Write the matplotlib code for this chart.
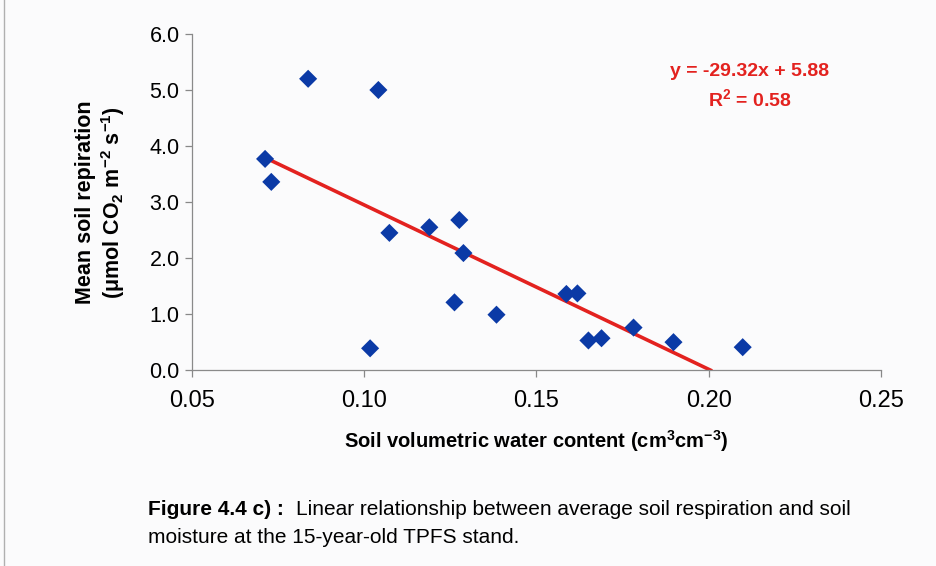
import matplotlib
matplotlib.use("Agg")
import matplotlib.pyplot as plt
import numpy as np

# ---------------------------------------------------------------------------
# Data
# ---------------------------------------------------------------------------

SWC = [0.0712, 0.0730, 0.0837, 0.1041, 0.1073, 0.1017, 0.1189, 0.1276,
       0.1288, 0.1262, 0.1384, 0.1587, 0.1619, 0.1651, 0.1689, 0.1782,
       0.1898, 0.2099]
RESP = [3.77, 3.36, 5.20, 5.00, 2.45, 0.39, 2.55, 2.68,
        2.09, 1.21, 0.99, 1.36, 1.37, 0.53, 0.57, 0.76,
        0.50, 0.41]

SLOPE = -29.32
INTERCEPT = 5.88
R2 = 0.58

X_TICKS = [0.05, 0.10, 0.15, 0.20, 0.25]
Y_TICKS = [0.0, 1.0, 2.0, 3.0, 4.0, 5.0, 6.0]

plt.rcParams["font.family"] = ["Liberation Sans", "DejaVu Sans"]
plt.rcParams["mathtext.fontset"] = "custom"
plt.rcParams["mathtext.rm"] = "Liberation Sans"
plt.rcParams["mathtext.bf"] = "Liberation Sans:bold"

RED = "#e3221f"

fig = plt.figure(figsize=(9.37, 5.66), dpi=100)
fig.patch.set_facecolor("#fbfbfc")
ax = fig.add_axes([0.205, 0.346, 0.735, 0.594])
ax.set_facecolor("#fbfbfc")

ax.scatter(SWC, RESP, marker="D", s=85, color="#0b3aa6", zorder=3,
           edgecolors="none")

# regression line, drawn from the first point to where it hits zero
x0 = min(SWC)
x1 = -INTERCEPT / SLOPE
xs = np.array([x0, x1])
ax.plot(xs, SLOPE * xs + INTERCEPT, color=RED, lw=2.6, zorder=2)

ax.set_xlim(0.05, 0.25)
ax.set_ylim(0, 6)
ax.set_xticks(X_TICKS)
ax.set_xticklabels(["%.2f" % v for v in X_TICKS], fontsize=17)
ax.set_yticks(Y_TICKS)
ax.set_yticklabels(["%.1f" % v for v in Y_TICKS], fontsize=15.5)
ax.tick_params(direction="out", length=5, color="#888888", width=0.9)
ax.tick_params(axis="x", pad=9)
ax.tick_params(axis="y", pad=4)
for side in ["top", "right"]:
    ax.spines[side].set_visible(False)
for side in ["left", "bottom"]:
    ax.spines[side].set_color("#8a8a8a")
    ax.spines[side].set_linewidth(0.9)

ax.set_xlabel("Soil volumetric water content (cm$^{\\mathbf{3}}$cm$^{\\mathbf{-3}}$)",
              fontsize=14.5, fontweight="bold", labelpad=12)
ax.set_ylabel("Mean soil repiration\n(\u03bcmol CO$_{\\mathbf{2}}$ m$^{\\mathbf{-2}}$ s$^{\\mathbf{-1}}$)",
              fontsize=15.5, fontweight="bold", labelpad=16, linespacing=1.15)

ax.text(0.81, 0.887, "y = %.2fx + %.2f" % (SLOPE, INTERCEPT),
        transform=ax.transAxes, ha="center", va="center",
        color=RED, fontsize=14, fontweight="bold")
ax.text(0.81, 0.804, "R$^{\\mathbf{2}}$ = %.2f" % R2,
        transform=ax.transAxes, ha="center", va="center",
        color=RED, fontsize=14, fontweight="bold")

# caption: bold label followed by normal text on the same line
cap = fig.text(0.158, 0.099, "Figure 4.4 c) :", fontsize=15, fontweight="bold",
               ha="left", va="center")
fig.canvas.draw()
bb = cap.get_window_extent(renderer=fig.canvas.get_renderer())
x_after = fig.transFigure.inverted().transform((bb.x1 + 12, 0))[0]
fig.text(x_after, 0.099,
         "Linear relationship between average soil respiration and soil",
         fontsize=15, ha="left", va="center")
fig.text(0.158, 0.051, "moisture at the 15-year-old TPFS stand.",
         fontsize=15, ha="left", va="center")

# faint frame line on the left edge of the scan
fig.add_artist(plt.Line2D([0.004, 0.004], [0.0, 1.0], color="#b0b0b0",
                          lw=1, transform=fig.transFigure))

fig.savefig("out.png", dpi=100, facecolor=fig.get_facecolor())
